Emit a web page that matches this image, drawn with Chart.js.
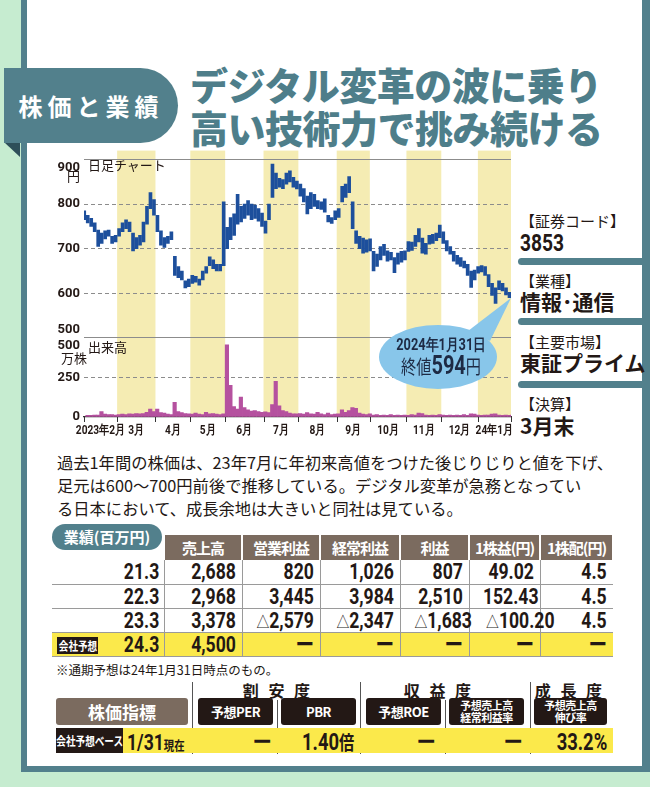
<!DOCTYPE html>
<html><head><meta charset="utf-8">
<script src="https://cdn.jsdelivr.net/npm/chart.js@4.4.1/dist/chart.umd.min.js"></script>
<style>
html,body{margin:0;padding:0;}
body{width:650px;height:787px;position:relative;background:#c6ecd0;overflow:hidden;font-family:"Noto Sans CJK JP",sans-serif;color:#231815;}
.a{position:absolute;}
.nar{font-family:Roboto,"Liberation Sans",sans-serif;font-weight:bold;}
.cn{display:inline-block;transform:scaleX(.8);transform-origin:right center;white-space:nowrap;}
.cnl{display:inline-block;transform:scaleX(.8);transform-origin:left center;white-space:nowrap;}
.cnc{display:inline-block;transform:scaleX(.8);transform-origin:center center;white-space:nowrap;}
.fc{display:flex;justify-content:center;align-items:center;}
#frame{left:21px;top:0;width:629px;height:772px;background:#52808c;}
#panel{left:27px;top:0;width:615px;height:766px;background:#fff;}
#badge{left:4px;top:68px;width:174px;height:75px;background:#52808c;border-radius:0 38px 38px 0;color:#fff;font-weight:bold;font-size:24px;letter-spacing:5px;line-height:75px;text-align:center;}
#fold{left:5px;top:143px;width:0;height:0;border-top:14px solid #2e4f59;border-left:15px solid transparent;}
#title{left:190px;top:62px;font-size:38px;font-weight:900;color:#4e7e8a;line-height:43px;white-space:nowrap;letter-spacing:-0.5px;}
#chart{left:40px;top:140px;}
.lbl{font-size:13px;line-height:14px;white-space:nowrap;color:#231815;}
.info1{left:520px;font-size:15px;line-height:18px;}
.info2{left:520px;font-size:21px;font-weight:bold;line-height:24px;white-space:nowrap;}
.bar{left:518px;width:124px;height:7px;background:#52808c;border-radius:4px 0 0 4px;}
#para{left:57px;top:451px;font-size:16.3px;line-height:23px;white-space:nowrap;}
.th{background:#7b6b5f;color:#fff;font-weight:bold;font-size:15px;text-align:center;line-height:25px;letter-spacing:-1px;}
.td{font-size:22px;text-align:right;line-height:24px;white-space:nowrap;}
.tri{font-family:"Noto Sans CJK JP",sans-serif;font-weight:normal;font-size:16px;}
#callText{text-align:center;color:#1d2a44;white-space:nowrap;}
</style></head>
<body>
<div id="frame" class="a"></div>
<div id="panel" class="a"></div>
<div id="badge" class="a">株価と業績</div>
<div id="fold" class="a"></div>
<div id="title" class="a">デジタル変革の波に乗り<br>高い技術力で挑み続ける</div>
<canvas id="chart" class="a" width="475" height="305"></canvas>
<div class="a lbl" style="left:88px;top:158px;">日足チャート</div>
<div class="a lbl" style="left:67px;top:169px;">円</div>
<div class="a lbl" style="left:88px;top:340px;">出来高</div>
<div class="a lbl" style="left:61px;top:351px;">万株</div>
<div id="callText" class="a"><div style="font-size:16px;line-height:18px;"><span class="nar cnc">2024年1月31日</span></div><div style="font-size:19px;line-height:24px;"><span class="cnc">終値<span class="nar" style="font-size:25px;">594</span>円</span></div></div>

<div class="a info1" style="top:212px;">【証券コード】</div>
<div class="a info2 nar" style="top:231px;font-size:24px;"><span class="cnl">3853</span></div>
<div class="a bar" style="top:258px;"></div>
<div class="a info1" style="top:272px;">【業種】</div>
<div class="a info2" style="top:289px;">情報･通信</div>
<div class="a bar" style="top:318px;"></div>
<div class="a info1" style="top:333px;">【主要市場】</div>
<div class="a info2" style="top:350px;">東証プライム</div>
<div class="a bar" style="top:381px;"></div>
<div class="a info1" style="top:395px;">【決算】</div>
<div class="a info2" style="top:413px;">3月末</div>

<div id="para" class="a">過去1年間の株価は、23年7月に年初来高値をつけた後じりじりと値を下げ、<br>足元は600〜700円前後で推移している。デジタル変革が急務となってい<br>る日本において、成長余地は大きいと同社は見ている。</div>
<div id="tables"></div>

<script>
// ---- chart data ----
const monthLabels = ['2023年2月','3月','4月','5月','6月','7月','8月','9月','10月','11月','12月','24年1月'];
const monthStarts = [0,19,41,61,81,103,123,145,164,185,205,226,245]; // trading-day index
const bucketDays = 2; // each value covers two trading days
const priceLow = [
 765,758,750,738,705,712,722,728,712,715,
 728,738,745,738,695,700,708,715,755,790,
 775,738,708,703,712,720,640,635,630,612,
 615,622,625,618,630,645,662,655,650,650,
 662,700,720,730,755,760,768,775,765,768,
 762,750,735,765,815,835,838,835,845,850,
 838,834,818,805,778,790,795,790,788,782,
 760,757,765,770,805,815,826,745,712,700,
 690,692,695,650,660,675,685,672,675,646,
 665,670,675,694,696,705,715,690,688,710,
 712,718,725,712,695,688,672,665,660,657,
 640,613,630,645,648,640,615,595,577,608,
 605,596,590];
const priceHigh = [
 785,775,768,758,742,735,740,742,728,730,
 745,758,765,760,735,725,730,760,795,826,
 810,775,740,725,728,738,683,660,650,628,
 632,640,638,632,650,660,682,675,665,665,
 805,748,770,778,822,795,800,808,800,798,
 790,780,762,800,890,870,858,855,870,875,
 860,852,845,835,818,826,822,808,805,812,
 775,770,785,790,840,845,862,805,740,728,
 724,720,722,694,688,705,710,695,692,680,
 690,694,695,716,715,730,745,724,712,730,
 732,735,753,738,718,705,694,685,680,672,
 665,650,652,660,662,660,642,622,612,628,
 622,612,602];
const volume = [
 10,10,12,12,35,18,15,15,12,15,
 18,15,20,18,22,20,22,30,50,35,
 50,28,25,18,15,92,35,28,22,20,
 18,25,18,15,30,20,22,18,15,20,
 456,200,65,50,125,60,45,38,40,35,
 30,32,28,78,225,70,40,35,25,20,
 20,22,18,28,20,18,30,20,15,25,
 15,18,20,45,30,40,60,55,25,18,
 15,20,12,15,10,12,10,15,10,12,
 10,12,10,15,12,25,22,12,10,12,
 10,15,12,10,12,10,12,10,15,10,
 20,18,12,10,12,12,18,20,12,10,
 12,10,15];
const lastClose = 594;
const priceTicks = [500,600,700,800,900];
const volumeTicks = [0,250,500];

// ---- table data ----
const perfHeaders = ['売上高','営業利益','経常利益','利益','1株益(円)','1株配(円)'];
const perfYears = ['21.3','22.3','23.3','24.3'];
const perfSales = ['2,688','2,968','3,378','4,500'];
const perfOp = ['820','3,445','△2,579','ー'];
const perfOrd = ['1,026','3,984','△2,347','ー'];
const perfNet = ['807','2,510','△1,683','ー'];
const perfEps = ['49.02','152.43','△100.20','ー'];
const perfDps = ['4.5','4.5','4.5','ー'];
const indGroups = ['割 安 度','収 益 度','成 長 度'];
const indHeaders = ['予想PER','PBR','予想ROE','予想売上高<br>経常利益率','予想売上高<br>伸び率'];
const indValues = ['ー','1.40倍','ー','ー','33.2%'];

const NAR = "Roboto,'Liberation Sans',sans-serif";
const CX = 40, CY = 140;
const monthCenters = monthLabels.map((_, i) => (monthStarts[i] + monthStarts[i+1]) / 2);

const stripes = {
  id: 'stripes',
  beforeDraw(chart) {
    const {ctx, chartArea, scales: {x}} = chart;
    ctx.save();
    ctx.fillStyle = '#f5ecb3';
    for (let k = 1; k < monthLabels.length; k += 2) {
      const l = x.getPixelForValue(monthStarts[k]), r = x.getPixelForValue(monthStarts[k+1]);
      ctx.fillRect(l, chartArea.top - 9, r - l, chartArea.bottom - chartArea.top + 9);
    }
    ctx.restore();
  },
  afterDraw(chart) {
    const {ctx, chartArea, scales: {x, y}} = chart;
    ctx.save();
    ctx.strokeStyle = '#333'; ctx.lineWidth = 1;
    monthStarts.forEach(v => {
      const px = Math.round(x.getPixelForValue(v)) + 0.5;
      ctx.beginPath(); ctx.moveTo(px, chartArea.bottom); ctx.lineTo(px, chartArea.bottom + 5); ctx.stroke();
    });
    // month labels (condensed), placed by the x scale
    ctx.fillStyle = '#231815';
    ctx.font = 'bold 13px ' + NAR;
    ctx.textAlign = 'center'; ctx.textBaseline = 'middle';
    monthLabels.forEach((t, i) => {
      ctx.save();
      ctx.translate(x.getPixelForValue(monthCenters[i]), chartArea.bottom + 14);
      ctx.scale(0.78, 1);
      ctx.fillText(t, 0, 0);
      ctx.restore();
    });
    // callout
    const px = x.getPixelForValue((priceLow.length - 1) * bucketDays + 1);
    const py = y.getPixelForValue(lastClose);
    const cx = px - 73, cy = py + 61;
    ctx.fillStyle = '#88c6ea';
    ctx.beginPath(); ctx.moveTo(cx + 30, cy - 26); ctx.lineTo(px, py + 2); ctx.lineTo(cx + 52, cy - 16); ctx.closePath(); ctx.fill();
    ctx.beginPath(); ctx.ellipse(cx, cy, 59, 32, 0, 0, Math.PI * 2); ctx.fill();
    ctx.restore();
    const el = document.getElementById('callText');
    el.style.left = (CX + cx - 60 + 3) + 'px';
    el.style.width = '120px';
    el.style.top = (CY + cy - 23) + 'px';
  }
};

const gridColor = '#8c8c8c';
new Chart(document.getElementById('chart'), {
  type: 'bar',
  data: {
    datasets: [
      { label: '株価', yAxisID: 'y', backgroundColor: '#1d4f9c', barThickness: 3, borderWidth: 0,
        data: priceLow.map((lo, i) => ({x: i * bucketDays + 1, y: [lo, priceHigh[i]]})) },
      { label: '出来高', yAxisID: 'yv', backgroundColor: '#b5519f', barThickness: 3.5, borderWidth: 0,
        data: volume.map((v, i) => ({x: i * bucketDays + 1, y: v})) }
    ]
  },
  options: {
    responsive: false, animation: false, devicePixelRatio: 1,
    layout: { padding: { top: 17, right: 4, left: 0, bottom: 0 } },
    plugins: { legend: { display: false }, tooltip: { enabled: false } },
    scales: {
      x: {
        type: 'linear', min: 0, max: 245, offset: false,
        afterFit: s => { s.height = 28; },
        grid: { display: false },
        border: { display: true, color: '#333', width: 1.2 },
        ticks: { display: false }
      },
      yv: {
        position: 'left', stack: 'p', stackWeight: 4, min: 0, max: 500,
        afterBuildTicks: s => { s.ticks = volumeTicks.map(v => ({value: v})); },
        afterFit: s => { s.width = 44; },
        grid: { color: c => (c.tick && c.tick.value === 0) ? 'rgba(0,0,0,0)' : gridColor, lineWidth: 1, drawTicks: false },
        border: { display: false, dash: c => (c.tick && c.tick.value === 250) ? [4, 3] : [] },
        ticks: { autoSkip: false, padding: 4, color: '#231815', font: { family: NAR, weight: 'bold', size: 13 },
          callback: v => v === 500 ? ['', '500'] : String(v) }
      },
      y: {
        position: 'left', stack: 'p', stackWeight: 9, min: 500, max: 900,
        afterBuildTicks: s => { s.ticks = priceTicks.map(v => ({value: v})); },
        afterFit: s => { s.width = 44; },
        grid: { color: gridColor, lineWidth: 1, drawTicks: false },
        border: { display: false, dash: c => (c.tick && (c.tick.value === 900 || c.tick.value === 500)) ? [] : [4, 3] },
        ticks: { autoSkip: false, padding: 4, color: '#231815', font: { family: NAR, weight: 'bold', size: 13 },
          callback: v => v === 900 ? ['', '900'] : (v === 500 ? ['500', ''] : String(v)) }
      }
    }
  },
  plugins: [stripes]
});

// ---- tables ----
const T = document.getElementById('tables');
function box(l, t, w, h, css, html) {
  const d = document.createElement('div');
  d.className = 'a';
  d.style.cssText += `left:${l}px;top:${t}px;width:${w}px;height:${h}px;` + css;
  if (html !== undefined) d.innerHTML = html;
  T.appendChild(d);
  return d;
}
function fmt(s) {
  const inner = s.startsWith('△') ? '<span class="tri">△</span>' + s.slice(1) : s;
  return '<span class="cn">' + inner + '</span>';
}
const colX = [52,164,242,320,400,469,540,613];
const headTop = 535, headH = 25;
const rowTops = [560,585,609,633], rowH = [25,24,24,24];
box(52, rowTops[3], 561, rowH[3], 'background:#fbe94b;');
perfHeaders.forEach((h, i) => box(colX[i+1] + 1, headTop, colX[i+2] - colX[i+1] - 2, headH, '', h).classList.add('th'));
box(52, 524, 110, 26, 'background:#52808c;border-radius:13px;color:#fff;font-weight:bold;font-size:15px;line-height:25px;text-align:center;', '業績(百万円)');
rowTops.forEach((t, r) => box(52, t + rowH[r] - 1, 561, 1, 'background:#9a9a9a;'));
colX.slice(1, 7).forEach(x => box(x, headTop + headH, 1, rowTops[3] + rowH[3] - headTop - headH, 'background:#9a9a9a;'));
const cols = [perfSales, perfOp, perfOrd, perfNet, perfEps, perfDps];
perfYears.forEach((yr, r) => {
  box(52, rowTops[r], colX[1] - 52 - 5, rowH[r], '', fmt(yr)).className = 'a td nar';
  cols.forEach((c, i) => box(colX[i+1], rowTops[r], colX[i+2] - colX[i+1] - 6, rowH[r], '', fmt(c[r])).className = 'a td nar');
});
box(57, 637, 41, 17, 'background:#231815;color:#fff;font-size:12px;font-weight:bold;line-height:17px;', '<span class="cnc">会社予想</span>').classList.add('fc');
box(56, 662, 300, 16, 'font-size:12.5px;line-height:16px;white-space:nowrap;', '※通期予想は24年1月31日時点のもの。');
const gCenters = [278, 439, 570];
indGroups.forEach((g, i) => box(gCenters[i] - 50, 680, 100, 20, 'font-size:16px;font-weight:bold;line-height:20px;text-align:center;letter-spacing:3px;', g));
[192, 360, 530].forEach(x => box(x, 682, 1, 72, 'background:#555;'));
[277, 445].forEach(x => box(x, 700, 1, 54, 'background:#555;'));
box(56, 698, 132, 27, 'background:#7b6b5f;border-radius:3px;color:#fff;font-weight:bold;font-size:17px;line-height:27px;text-align:center;', '株価指標');
const hX = [[198,273],[281,356],[366,441],[449,524],[534,607]];
indHeaders.forEach((h, i) => {
  const two = h.includes('<br>');
  box(hX[i][0], 698, hX[i][1] - hX[i][0], two ? 26 : 27, `background:#231815;border-radius:3px;color:#fff;font-weight:bold;text-align:center;font-size:${two ? 11 : 13}px;line-height:${two ? 12 : 27}px;${two ? 'padding-top:1px;' : ''}letter-spacing:-0.5px;`, h);
});
box(123, 728, 490, 25, 'background:#fbe94b;');
box(56, 728, 67, 25, 'background:#231815;color:#fff;font-weight:bold;font-size:12px;line-height:25px;', '<span class="cnc">会社予想ベース</span>').classList.add('fc');
box(127, 728, 66, 25, 'font-size:22px;line-height:25px;white-space:nowrap;', '<span class="cnl"><span class="nar">1/31</span><span style="font-size:13px;font-weight:bold;">現在</span></span>');
const vRight = [271, 354, 435, 522, 607];
indValues.forEach((v, i) => {
  const html = v.endsWith('倍') ? '<span class="nar">' + v.slice(0, -1) + '</span><span style="font-size:19px;font-weight:bold;">倍</span>' : '<span class="nar">' + v + '</span>';
  box(vRight[i] - 90, 728, 90, 25, 'font-size:23px;line-height:25px;text-align:right;white-space:nowrap;', '<span class="cn">' + html + '</span>');
});
</script>
</body></html>
